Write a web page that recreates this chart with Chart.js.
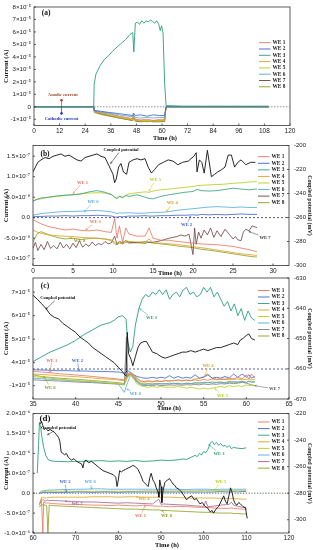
<!DOCTYPE html>
<html>
<head>
<meta charset="utf-8">
<script src="https://cdn.jsdelivr.net/npm/chart.js@4.4.1/dist/chart.umd.min.js"></script>
<style>
html, body { margin: 0; padding: 0; background: #fff; }
#wrap { position: relative; width: 313px; height: 550px; overflow: hidden; background: #fff; }
#wrap canvas { position: absolute; left: 0; }
</style>
</head>
<body>
<div id="wrap">
  <canvas id="chartA" width="313" height="142" style="top:0px"></canvas>
  <canvas id="chartB" width="313" height="137" style="top:140px"></canvas>
  <canvas id="chartC" width="313" height="140" style="top:272px"></canvas>
  <canvas id="chartD" width="313" height="142" style="top:408px"></canvas>
</div>
<script>
// ---------- data: panel (a), current in 1e-5 A ----------
const aXTicks = [0, 12, 24, 36, 48, 60, 72, 84, 96, 108, 120];
const aYTicks = [-1e-5, 0, 1e-5, 2e-5, 3e-5, 4e-5, 5e-5, 6e-5, 7e-5, 8e-5];
const aTime3 = [0, 28, 28.2, 29, 31, 33, 35, 37, 39, 41,
  43, 45, 46.3, 46.8, 47.5, 48.5, 49.5, 50.5, 51.5, 52.5,
  53.5, 54.5, 55.5, 56.5, 57.5, 58.5, 59.2, 59.8, 60.5, 61.2,
  61.9, 70, 80, 90, 100, 110];
const aWE3 = [0, 0, 1.8, 2.6, 3.3, 3.8, 4.1, 4.5, 4.8, 5.1,
  5.4, 5.8, 5.95, 4.4, 6.7, 6.8, 6.6, 6.9, 6.7, 6.9,
  6.8, 6.95, 6.85, 6.7, 6.9, 6.6, 6.1, 6.5, 5.9, 2.0,
  0.1, 0.05, 0.05, 0.05, 0.05, 0.05];
const aTimeN = [0, 28, 28.3, 31, 35, 40, 46.3, 46.6, 47.5, 50, 53, 56, 59, 61.2, 61.9, 110];
const aWE1 = [0, 0, -0.35, -0.45, -0.55, -0.75, -0.95, -0.7, -1.0, -1.05, -1.0, -1.1, -1.0, -1.0, 0, 0];
const aWE2 = [0, 0, -0.3, -0.35, -0.45, -0.55, -0.7, -0.5, -0.7, -0.65, -0.75, -0.65, -0.7, -0.7, 0, 0];
const aWE4 = [0, 0, -0.4, -0.5, -0.65, -0.85, -1.05, -0.8, -1.1, -1.15, -1.1, -1.2, -1.1, -1.1, 0, 0];
const aWE5 = [0, 0, -0.35, -0.45, -0.6, -0.8, -1.0, -0.75, -1.05, -1.1, -1.15, -1.1, -1.15, -1.05, 0, 0];
const aWE6 = [0, 0, -0.3, -0.4, -0.5, -0.65, -0.8, -0.6, -0.85, -0.9, -0.85, -0.9, -0.85, -0.85, 0, 0];
const aWE7 = [0, 0, -0.4, -0.55, -0.7, -0.9, -1.1, -0.85, -1.15, -1.2, -1.15, -1.2, -1.2, -1.15, 0, 0];
const aWE8 = [0, 0, -0.45, -0.6, -0.75, -0.9, -1.1, -0.85, -1.1, -1.15, -1.2, -1.15, -1.1, -1.2, 0, 0];

// ---------- data: panel (b), current in 1e-8 A, potential in mV ----------
const bXTicks = [0, 5, 10, 15, 20, 25, 30];
const bYTicks = [-1e-7, -5e-8, 0, 5e-8, 1e-7, 1.5e-7];
const bY2Ticks = [-300, -280, -260, -240, -220, -200];
const bCpTime = [0, 0.3, 0.6, 1, 1.5, 2, 2.5, 3, 3.5, 4,
  4.5, 5, 5.5, 6, 6.5, 7, 7.5, 8, 8.5, 9,
  9.5, 10, 10.2, 10.4, 10.7, 11, 11.3, 11.7, 12, 12.5,
  13, 13.5, 14, 14.4, 14.8, 15.2, 15.7, 16.3, 16.9, 17.5,
  18.1, 18.7, 19.4, 20.1, 20.4, 20.5, 20.8, 21.1, 21.4, 21.8,
  22.3, 22.7, 23.1, 23.6, 24, 24.4, 24.8, 25.2, 25.6, 26,
  26.6, 27.2, 27.8];
const bCp = [-222, -218, -214, -212, -210, -211, -209, -208, -207, -209,
  -208, -210, -212, -213, -210, -209, -208, -207, -209, -210,
  -217, -224, -231, -228, -218, -215, -222, -224, -214, -212,
  -211, -212, -211, -218, -223, -220, -216, -214, -212, -213,
  -216, -214, -213, -209, -206, -222, -212, -214, -223, -204,
  -226, -224, -222, -220, -218, -208, -208, -218, -214, -212,
  -216, -214, -214];
const bTime = [0, 0.5, 1, 2, 3, 4, 5, 6, 7, 8,
  9, 9.8, 10.2, 10.5, 10.8, 11.2, 11.6, 12, 13, 14,
  14.5, 15, 16, 17, 18, 19, 20, 20.5, 21, 22,
  23, 24, 25, 26, 27, 28];
const bWE1 = [-0.5, -1.0, -1.5, -2.2, -2.6, -3.0, -2.8, -3.1, -3.2, -3.0,
  -3.4, -3.6, -0.2, -5.0, -2.0, -6.0, -2.5, -4.0, -4.5, -4.5,
  -2.5, -5.0, -5.5, -5.5, -5.8, -6.0, -6.2, -6.3, -6.4, -6.5,
  -6.6, -6.8, -7.0, -7.4, -7.8, -8.3];
const bWE2 = [0.2, 0.3, 0.3, 0.4, 0.4, 0.5, 0.4, 0.5, 0.5, 0.6,
  0.5, 0.4, 0.2, 0.1, 0.3, 0.2, 0.3, 0.4, 0.4, 0.5,
  0.4, 0.4, 0.5, 0.5, 0.6, 0.6, 0.7, 0.6, 0.8, 0.7,
  0.8, 0.7, 0.8, 0.9, 0.8, 0.8];
const bWE3 = [4.0, 4.5, 4.8, 5.0, 5.3, 5.5, 5.6, 5.8, 6.3, 6.6,
  6.2, 5.6, 5.0, 4.7, 5.2, 4.9, 5.4, 5.2, 5.6, 5.0,
  4.7, 4.6, 5.2, 5.6, 5.9, 6.2, 6.4, 6.9, 6.6, 6.5,
  6.6, 6.9, 7.2, 7.0, 6.8, 7.0];
const bWE4 = [-3.0, -3.5, -3.8, -4.2, -4.4, -4.5, -4.6, -4.8, -4.9, -5.0,
  -5.2, -5.4, -6.0, -6.2, -5.8, -6.0, -5.6, -5.8, -5.9, -6.0,
  -5.2, -6.1, -6.2, -6.4, -6.5, -6.8, -7.0, -7.2, -7.3, -7.6,
  -7.9, -8.2, -8.5, -8.8, -9.0, -9.2];
const bWE5 = [4.2, 4.4, 4.6, 5.0, 5.2, 5.4, 5.6, 5.8, 6.0, 6.1,
  6.0, 5.7, 5.0, 4.6, 5.3, 5.0, 5.5, 5.8, 6.1, 6.3,
  6.2, 6.5, 6.8, 7.0, 7.2, 7.4, 7.6, 7.8, 7.9, 8.0,
  8.1, 8.2, 8.4, 8.5, 8.7, 8.8];
const bWE6 = [0.6, 0.8, 1.0, 1.2, 1.4, 1.5, 1.5, 1.6, 1.7, 1.8,
  1.6, 1.4, 1.2, 1.0, 1.2, 1.1, 1.2, 1.2, 1.1, 1.1,
  1.2, 1.3, 1.3, 1.5, 1.8, 2.0, 2.2, 2.3, 2.4, 2.6,
  2.7, 2.6, 2.5, 2.6, 2.5, 2.5];
const bWE8 = [-6.0, -4.0, -3.4, -4.2, -4.8, -5.2, -5.0, -5.3, -5.1, -5.0,
  -5.2, -5.6, -6.4, -6.6, -6.2, -6.4, -6.0, -6.2, -6.1, -6.3,
  -6.0, -6.2, -6.4, -6.6, -6.9, -7.1, -7.3, -7.5, -7.7, -7.9,
  -8.2, -8.5, -8.8, -9.1, -9.4, -9.6];
const bTime7 = [0, 0.3, 0.6, 1, 1.4, 1.8, 2.2, 2.6, 3, 3.4,
  3.8, 4.2, 4.6, 5, 5.4, 5.8, 6.2, 6.6, 7, 7.4,
  7.8, 8.2, 8.6, 9, 9.4, 9.8, 10.2, 10.5, 10.8, 11.2,
  11.6, 12, 13, 14, 15, 16, 17, 18, 18.5, 19,
  19.5, 20, 20.2, 20.4, 20.7, 21, 21.4, 21.8, 22.2, 22.6,
  23, 23.5, 24, 24.5, 25, 25.3, 25.6, 26, 26.3, 26.6,
  27, 27.4, 28];
const bWE7 = [-7.5, -6.0, -8.0, -6.5, -7.8, -5.8, -7.5, -6.8, -7.6, -6.0,
  -7.4, -6.5, -7.6, -6.2, -7.3, -5.6, -7.2, -6.4, -7.0, -5.9,
  -6.8, -6.3, -6.6, -5.8, -6.4, -6.1, -4.5, -6.5, -5.8, -6.2,
  -5.6, -6.0, -6.1, -5.9, -6.0, -5.6, -5.0, -4.6, -4.2, -4.5,
  -4.0, -9.0, -2.5, -6.5, -3.5, -5.0, -3.0, -4.2, -2.5, -4.8,
  -3.2, -4.6, -2.8, -4.0, -5.2, -4.6, -5.4, -5.6, -3.5, -2.8,
  -3.2, -2.0, -2.4];

// ---------- data: panel (c), current in 1e-5 A (broken axis), potential in mV ----------
const cXTicks = [35, 40, 45, 50, 55, 60, 65];
const cYTicks = [-1e-5, 4e-5, 5e-5, 6e-5, 7e-5];
const cY2Ticks = [-670, -660, -650, -640, -630];
const cBreakVals = [-1.8e-5, 0, 4e-5, 7.6e-5];
const cBreakFrac = [0, 0.248, 0.300, 1];
const cCpTime = [35, 35.5, 36, 36.5, 37, 37.5, 38, 38.5, 39, 39.5,
  40, 40.5, 41, 41.5, 42, 42.5, 43, 43.5, 44, 44.5,
  45, 45.5, 45.9, 46.05, 46.2, 46.5, 46.7, 47, 47.3, 47.6,
  48, 48.3, 48.7, 49, 49.5, 50, 50.5, 51, 51.5, 52,
  52.5, 53, 53.5, 54, 54.5, 55, 55.5, 56, 56.5, 57,
  57.5, 58, 58.5, 59, 59.3, 59.6, 60, 60.3, 60.6, 61];
const cCp = [-635.7, -637, -638.5, -640, -642, -643, -643.5, -645, -646, -647,
  -648, -649.5, -650.5, -651.5, -653, -654, -655, -656, -657, -658,
  -659.5, -661, -662.5, -648, -655, -657, -659, -656, -653, -651.5,
  -651, -651, -653, -654.5, -655, -656, -656.5, -656, -655.5, -655,
  -654.5, -654.5, -654, -654.5, -654, -653.5, -654, -653.5, -653, -653,
  -652.5, -652, -651.5, -652, -650.5, -650, -649, -648.5, -650, -650.5];
const cTime3 = [35, 36, 37, 38, 39, 40, 41, 42, 43, 44,
  44.5, 45, 45.5, 45.9, 46.1, 46.4, 46.7, 47, 47.4, 47.8,
  48.2, 48.6, 49, 49.4, 49.8, 50.2, 50.6, 51, 51.4, 51.8,
  52.2, 52.6, 53, 53.4, 53.8, 54.2, 54.6, 55, 55.4, 55.8,
  56.2, 56.6, 57, 57.4, 57.8, 58.2, 58.6, 59, 59.4, 59.8,
  60.2, 60.6, 61];
const cWE3 = [4.05, 4.25, 4.45, 4.6, 4.75, 4.95, 5.2, 5.4, 5.6, 5.7,
  5.8, 5.95, 6.0, 5.85, 4.9, 4.45, 4.7, 5.6, 6.3, 6.7,
  6.9, 6.8, 7.0, 6.9, 7.1, 6.9, 7.1, 6.7, 6.9, 7.0,
  6.8, 7.1, 7.2, 6.9, 7.0, 6.8, 6.9, 7.2, 7.0, 7.2,
  6.8, 7.0, 6.7, 6.4, 6.6, 6.2, 6.5, 6.0, 6.3, 5.8,
  6.2, 5.9, 5.8];
const cTime = [35, 36, 37, 38, 39, 40, 41, 42, 43, 44,
  45, 45.7, 46.1, 46.4, 46.8, 47.2, 47.6, 48, 48.5, 49,
  49.5, 50, 50.5, 51, 51.5, 52, 52.5, 53, 53.5, 54,
  54.5, 55, 55.5, 56, 56.5, 57, 57.5, 58, 58.5, 59,
  59.5, 60, 60.3, 60.6, 61];
const cWE1 = [-0.15, -0.18, -0.22, -0.28, -0.32, -0.36, -0.4, -0.45, -0.5, -0.55,
  -0.6, -0.65, -0.3, -0.2, -0.35, -0.55, -0.7, -0.75, -0.7, -0.75,
  -0.7, -0.75, -0.7, -0.72, -0.7, -0.65, -0.7, -0.68, -0.7, -0.65,
  -0.7, -0.62, -0.68, -0.6, -0.65, -0.6, -0.62, -0.55, -0.6, -0.5,
  -0.6, -0.35, -0.6, -0.3, -0.55];
const cWE2 = [-0.05, -0.06, -0.08, -0.1, -0.1, -0.12, -0.12, -0.14, -0.15, -0.16,
  -0.18, -0.25, -0.1, -0.2, -0.35, -0.45, -0.5, -0.55, -0.55, -0.5,
  -0.55, -0.5, -0.55, -0.4, -0.55, -0.45, -0.55, -0.5, -0.55, -0.35,
  -0.55, -0.5, -0.35, -0.55, -0.5, -0.55, -0.45, -0.55, -0.3, -0.5,
  -0.3, -0.5, -0.35, -0.55, -0.45];
const cWE4 = [-0.3, -0.33, -0.36, -0.4, -0.43, -0.46, -0.5, -0.54, -0.58, -0.62,
  -0.66, -0.7, -0.35, -0.25, -0.4, -0.6, -0.75, -0.8, -0.75, -0.78,
  -0.72, -0.75, -0.7, -0.72, -0.68, -0.7, -0.72, -0.65, -0.7, -0.6,
  -0.55, -0.45, -0.3, -0.55, -0.6, -0.62, -0.6, -0.65, -0.62, -0.6,
  -0.65, -0.62, -0.6, -0.65, -0.62];
const cWE5 = [-0.45, -0.5, -0.55, -0.6, -0.65, -0.7, -0.72, -0.75, -0.8, -0.85,
  -0.9, -0.95, -0.5, -0.35, -0.6, -0.9, -1.0, -1.05, -1.1, -1.05,
  -1.1, -1.05, -1.1, -1.08, -1.1, -1.05, -1.1, -1.15, -1.1, -1.15,
  -1.2, -1.15, -1.2, -1.15, -1.1, -1.05, -1.1, -1.0, -1.05, -1.0,
  -1.05, -0.95, -1.0, -0.95, -1.0];
const cWE6 = [-0.55, -0.58, -0.62, -0.65, -0.68, -0.72, -0.75, -0.78, -0.82, -0.86,
  -0.9, -1.4, -0.8, -0.4, -0.55, -0.8, -0.9, -0.95, -0.9, -0.92,
  -0.9, -0.88, -0.9, -0.85, -0.88, -0.85, -0.9, -0.85, -0.88, -0.85,
  -0.82, -0.85, -0.8, -0.85, -0.82, -0.8, -0.85, -0.8, -0.75, -0.8,
  -0.78, -0.8, -0.75, -0.8, -0.78];
const cWE8 = [-0.35, -0.45, -0.5, -0.55, -0.58, -0.62, -0.65, -0.7, -0.73, -0.78,
  -0.82, -0.88, -0.4, -0.3, -0.45, -0.7, -0.85, -0.9, -0.88, -0.9,
  -0.85, -0.9, -0.88, -0.9, -0.85, -0.88, -0.9, -0.85, -0.88, -0.82,
  -0.85, -0.8, -0.82, -0.78, -0.8, -0.78, -0.82, -0.75, -0.8, -0.78,
  -0.75, -0.8, -0.72, -0.78, -0.75];
const cTime7 = [35, 36, 37, 38, 39, 40, 41, 42, 43, 44,
  45, 45.7, 45.95, 46.1, 46.4, 46.8, 47.2, 47.6, 48, 48.5,
  49, 49.5, 50, 50.5, 51, 51.5, 52, 52.5, 53, 53.5,
  54, 54.5, 55, 55.5, 56, 56.5, 57, 57.5, 58, 58.5,
  59, 59.5, 60, 60.3, 60.6, 61];
const cWE7 = [-0.65, -0.68, -0.7, -0.72, -0.75, -0.78, -0.8, -0.82, -0.85, -0.88,
  -0.9, -0.95, 5.1, -0.45, -0.3, -0.5, -0.75, -0.95, -1.0, -0.98,
  -1.0, -0.95, -1.0, -0.98, -0.95, -0.97, -0.95, -0.98, -0.94, -0.96,
  -0.92, -0.95, -0.9, -0.93, -0.9, -0.92, -0.88, -0.9, -0.85, -0.88,
  -0.85, -0.8, -0.85, -0.9, -0.95, -1.0];

// ---------- data: panel (d), current in 1e-6 A, potential in mV ----------
const dXTicks = [60, 70, 80, 90, 100, 110, 120];
const dYTicks = [-1e-6, -5e-7, 0, 5e-7, 1e-6, 1.5e-6, 2e-6];
const dY2Ticks = [-300, -280, -260, -240, -220];
const dCpTime = [61.6, 62, 62.3, 62.6, 63, 63.5, 64, 64.5, 65, 65.5,
  66, 66.3, 66.6, 67, 67.4, 67.8, 68.3, 69, 69.6, 70.2,
  70.8, 71.4, 71.7, 72, 72.5, 73, 73.7, 74.5, 75.6, 76.4,
  77.2, 78, 78.8, 79.4, 79.7, 80, 80.3, 80.7, 81.1, 81.7,
  82.3, 83, 83.4, 84, 84.6, 85.2, 85.8, 86.4, 87, 87.4,
  87.7, 88.1, 88.5, 88.9, 89.3, 89.5, 89.7, 90, 90.2, 90.5,
  90.9, 91.5, 92, 92.4, 92.8, 93.2, 93.6, 94.2, 94.8, 95.4,
  96, 96.6, 97.2, 97.8, 98.3, 98.7, 99.1, 99.7, 100.3, 100.9,
  101.5, 102, 102.3, 102.9, 103.5, 104.1, 104.7, 105.1, 105.5, 105.9,
  106.3, 106.7, 107, 107.4, 107.8, 108.2, 108.6, 109.2, 109.8, 110.2];
const dCp = [-228, -226, -229, -232, -231, -233, -232, -233, -234, -236,
  -238, -241, -249, -250, -251, -250, -253, -255, -254, -256,
  -257, -258, -261, -256, -255, -257, -256, -258, -261, -263,
  -264, -265, -266, -268, -275, -270, -263, -264, -263, -262,
  -261, -260, -259, -260, -262, -266, -271, -273, -275, -268,
  -265, -270, -272, -276, -279, -283, -270, -275, -287, -278,
  -272, -270, -269, -271, -273, -274, -276, -277, -279, -282,
  -285, -283, -282, -285, -284, -286, -288, -287, -290, -291,
  -294, -293, -295, -292, -290, -286, -282, -286, -288, -282,
  -276, -280, -285, -288, -289, -287, -288, -290, -291, -299];
const dTime3 = [61, 61.3, 61.5, 61.8, 62.1, 62.5, 63, 63.5, 64, 65,
  66, 68, 70, 72, 74, 76, 78, 80, 82, 84,
  86, 88, 90, 92, 94, 95, 96, 97, 98, 98.5,
  99, 99.5, 100, 100.5, 101, 101.5, 102, 102.5, 103, 103.5,
  104, 104.5, 105, 105.5, 106, 106.5, 107, 108, 109, 110];
const dWE3 = [0.5, 1.2, 1.78, 1.65, 1.4, 1.15, 0.95, 0.85, 0.82, 0.8,
  0.8, 0.79, 0.8, 0.8, 0.81, 0.82, 0.8, 0.81, 0.8, 0.82,
  0.8, 0.81, 0.83, 0.82, 0.84, 0.86, 0.85, 0.9, 0.95, 0.92,
  1.0, 0.96, 1.05, 1.02, 1.1, 1.25, 1.3, 1.22, 1.28, 1.2,
  1.25, 1.18, 1.2, 1.15, 1.2, 1.12, 1.15, 1.13, 1.12, 1.14];
const dTime = [61.5, 62, 62.3, 62.5, 62.8, 63.2, 63.5, 63.8, 64.5, 66,
  68, 70, 72, 74, 76, 78, 80, 82, 84, 86,
  88, 89.5, 90, 90.5, 92, 94, 96, 98, 100, 100.5,
  101, 102, 104, 106, 106.5, 107, 108, 109, 110];
const dWE1 = [-0.25, -0.2, -1.0, -0.22, -0.24, -0.25, -0.24, -0.25, -0.26, -0.27,
  -0.28, -0.28, -0.29, -0.3, -0.3, -0.31, -0.3, -0.31, -0.32, -0.3,
  -0.32, -0.33, -0.32, -0.33, -0.34, -0.33, -0.34, -0.35, -0.36, -0.35,
  -0.36, -0.37, -0.38, -0.38, -0.37, -0.38, -0.39, -0.4, -0.4];
const dWE2 = [0, 0.01, 0.02, 0.02, 0.02, 0.02, 0.02, 0.02, 0.02, 0.02,
  0.02, 0.03, 0.03, 0.02, 0.03, 0.03, 0.02, 0.03, 0.03, 0.03,
  0.03, 0.03, 0.03, 0.03, 0.03, 0.03, 0.03, 0.03, 0.03, 0.03,
  0.03, 0.03, 0.04, 0.03, 0.03, 0.04, 0.03, 0.04, 0.04];
const dWE4 = [-0.3, -0.1, -0.12, -0.1, -0.12, -0.12, -0.1, -0.11, -0.1, -0.1,
  -0.1, -0.1, -0.1, -0.09, -0.09, -0.09, -0.1, -0.09, -0.09, -0.1,
  -0.1, -0.1, -0.12, -0.1, -0.1, -0.11, -0.12, -0.12, -0.12, -0.12,
  -0.12, -0.12, -0.13, -0.13, -0.13, -0.14, -0.14, -0.15, -0.15];
const dWE5 = [0, 0.03, 0.04, 0.04, 0.04, 0.05, 0.05, 0.05, 0.05, 0.05,
  0.05, 0.05, 0.05, 0.05, 0.05, 0.05, 0.05, 0.05, 0.05, 0.06,
  0.06, 0.06, 0.06, 0.06, 0.06, 0.06, 0.06, 0.06, 0.07, 0.07,
  0.07, 0.07, 0.07, 0.07, 0.07, 0.07, 0.07, 0.07, 0.07];
const dWE6 = [0.02, 0.05, 0.06, 0.06, 0.07, 0.07, 0.08, 0.08, 0.08, 0.09,
  0.09, 0.1, 0.1, 0.11, 0.11, 0.1, 0.1, 0.1, 0.1, 0.1,
  0.1, 0.1, 0.1, 0.1, 0.1, 0.1, 0.09, 0.1, 0.1, 0.1,
  0.1, 0.09, 0.1, 0.1, 0.1, 0.1, 0.1, 0.1, 0.1];
const dWE7 = [-0.3, -0.15, -0.18, -0.17, -0.2, -0.18, -0.17, -0.19, -0.18, -0.19,
  -0.2, -0.21, -0.22, -0.22, -0.23, -0.24, -0.25, -0.24, -0.25, -0.26,
  -0.27, -0.15, -0.28, -0.27, -0.28, -0.29, -0.3, -0.32, -0.33, -0.2,
  -0.34, -0.33, -0.3, -0.28, -0.22, -0.3, -0.33, -0.35, -0.37];
const dWE8 = [-0.35, -0.28, -0.3, -0.29, -0.3, -0.31, -1.0, -0.3, -0.31, -0.32,
  -0.33, -0.34, -0.35, -0.36, -0.37, -0.38, -0.39, -0.4, -0.4, -0.41,
  -0.42, -0.42, -0.43, -0.43, -0.44, -0.45, -0.46, -0.47, -0.48, -0.48,
  -0.48, -0.49, -0.5, -0.5, -0.5, -0.51, -0.51, -0.52, -0.52];

// ---------- styles ----------
const WE = ['#e3735e', '#3a5fcd', '#2e9e7e', '#d9a21b', '#b5cc18', '#4fa8dc', '#6b3f45', '#8f9a1a'];
const SERIF = '"Liberation Serif", "Times New Roman", serif';
Chart.defaults.font.family = '"Liberation Sans", Arial, sans-serif';
Chart.defaults.color = '#222';

// y axis with a compressed gap (panel c): piecewise linear value -> decimal
function brokenFrac(v) {
  const n = cBreakVals.length;
  let i = 0;
  while (i < n - 2 && v > cBreakVals[i + 1]) i++;
  const t = (v - cBreakVals[i]) / (cBreakVals[i + 1] - cBreakVals[i]);
  return cBreakFrac[i] + t * (cBreakFrac[i + 1] - cBreakFrac[i]);
}
function brokenValue(f) {
  const n = cBreakFrac.length;
  let i = 0;
  while (i < n - 2 && f > cBreakFrac[i + 1]) i++;
  const t = (f - cBreakFrac[i]) / (cBreakFrac[i + 1] - cBreakFrac[i]);
  return cBreakVals[i] + t * (cBreakVals[i + 1] - cBreakVals[i]);
}
class BrokenScale extends Chart.LinearScale {
  getPixelForValue(v) { return this.getPixelForDecimal(brokenFrac(v)); }
  getValueForPixel(p) { return brokenValue(this.getDecimalForPixel(p)); }
}
BrokenScale.id = 'broken';
Chart.register(BrokenScale);

const SUP = { '-': '⁻', '0': '⁰', '1': '¹', '2': '²', '3': '³', '4': '⁴', '5': '⁵', '6': '⁶', '7': '⁷', '8': '⁸', '9': '⁹' };
function sci(v, dec) {
  if (Math.abs(v) < 1e-15) return dec ? (0).toFixed(dec) : '0';
  const e = Math.floor(Math.log10(Math.abs(v)) + 1e-9);
  const m = v / Math.pow(10, e);
  return m.toFixed(dec) + '×10' + String(e).split('').map(c => SUP[c]).join('');
}

function line(label, xs, ys, unit, color, axis, width) {
  return {
    label: label,
    data: xs.map((x, i) => ({ x: x, y: ys[i] * unit })),
    borderColor: color, borderWidth: width || 0.8,
    pointRadius: 0, tension: 0, fill: false, yAxisID: axis || 'y'
  };
}
function zero(x0, x1, color, dash) {
  return { label: 'zero', data: [{ x: x0, y: 0 }, { x: x1, y: 0 }], borderColor: color,
    borderWidth: 0.8, borderDash: dash, pointRadius: 0, yAxisID: 'y' };
}

const noGrid = { display: false, drawTicks: false, tickLength: 0 };
function xAxis(min, max, ticks, h) {
  return {
    type: 'linear', position: 'bottom', min: min, max: max,
    grid: noGrid, border: { display: false },
    ticks: { font: { size: 6.5 }, padding: 1.5, maxRotation: 0, autoSkip: false },
    afterBuildTicks: s => { s.ticks = ticks.map(v => ({ value: v })); },
    afterFit: s => { s.height = h; s.paddingLeft = 0; s.paddingRight = 0; }
  };
}
function yAxis(type, min, max, ticks, dec, w) {
  return {
    type: type, position: 'left', min: min, max: max,
    grid: noGrid, border: { display: false },
    ticks: { font: { size: 6.2 }, padding: 3, autoSkip: false, callback: v => sci(v, dec) },
    title: { display: true, text: 'Current (A)', font: { family: SERIF, weight: 'bold', size: 6.5 }, padding: { top: 2, bottom: 0 } },
    afterBuildTicks: s => { s.ticks = ticks.map(v => ({ value: v })); },
    afterFit: s => { s.width = w; s.paddingTop = 0; s.paddingBottom = 0; }
  };
}
function y2Axis(min, max, ticks) {
  return {
    type: 'linear', position: 'right', min: min, max: max,
    grid: noGrid, border: { display: false },
    ticks: { font: { size: 6 }, padding: 5, autoSkip: false },
    title: { display: true, text: 'Coupled potential (mV)', font: { family: SERIF, weight: 'bold', size: 6 }, padding: { top: 0, bottom: 0 } },
    afterBuildTicks: s => { s.ticks = ticks.map(v => ({ value: v })); },
    afterFit: s => { s.width = 24; s.paddingTop = 0; s.paddingBottom = 0; }
  };
}

// frame, inward tick marks, legend, panel letter, x title, labels with leader lines
function decor(cfg) {
  return {
    id: 'decor',
    afterDraw(chart) {
      const ctx = chart.ctx, a = chart.chartArea;
      ctx.save();
      ctx.strokeStyle = '#333';
      ctx.lineWidth = 0.8;
      ctx.strokeRect(a.left, a.top, a.right - a.left, a.bottom - a.top);
      Object.values(chart.scales).forEach(s => {
        s.ticks.forEach(t => {
          const p = s.getPixelForValue(t.value);
          ctx.beginPath();
          if (s.axis === 'x') { ctx.moveTo(p, a.bottom); ctx.lineTo(p, a.bottom - 2); }
          else if (s.position === 'left') { ctx.moveTo(a.left, p); ctx.lineTo(a.left + 2, p); }
          else { ctx.moveTo(a.right, p); ctx.lineTo(a.right - 2, p); }
          ctx.stroke();
        });
      });

      // legend
      const items = chart.data.datasets.filter(d => d.label.indexOf('WE') === 0)
        .sort((p, q) => p.label.localeCompare(q.label));
      ctx.font = 'bold 5.3px ' + SERIF;
      ctx.textBaseline = 'middle';
      ctx.textAlign = 'left';
      items.forEach((d, i) => {
        const y = a.top + cfg.legendTop + i * cfg.legendGap;
        ctx.strokeStyle = d.borderColor;
        ctx.lineWidth = 0.9;
        ctx.beginPath(); ctx.moveTo(a.right - 31, y); ctx.lineTo(a.right - 19.5, y); ctx.stroke();
        ctx.fillStyle = '#222';
        ctx.fillText(d.label, a.right - 17.5, y);
      });

      // panel letter and x title
      ctx.textAlign = 'center';
      ctx.fillStyle = '#111';
      ctx.font = 'bold ' + cfg.letterSize + 'px ' + SERIF;
      ctx.fillText(cfg.letter, a.left + 12, a.top + cfg.letterDy);
      ctx.font = 'bold 6.5px ' + SERIF;
      ctx.fillText('Time (h)', (a.left + a.right) / 2 + cfg.titleDx, a.bottom + cfg.titleDy);

      // arrows (anodic / cathodic)
      const xs = chart.scales.x;
      (cfg.marks || []).forEach(m => {
        const ys = chart.scales.y;
        const x1 = xs.getPixelForValue(m.x1), y1 = ys.getPixelForValue(m.y1);
        const x2 = xs.getPixelForValue(m.x2), y2 = ys.getPixelForValue(m.y2);
        ctx.strokeStyle = m.c; ctx.fillStyle = m.c; ctx.lineWidth = 0.7;
        ctx.beginPath(); ctx.moveTo(x1, y1); ctx.lineTo(x2, y2); ctx.stroke();
        ctx.beginPath(); ctx.arc(x2, y2, 1.3, 0, Math.PI * 2); ctx.fill();
      });

      // text labels with leader lines
      (cfg.notes || []).forEach(n => {
        const ys = chart.scales[n.s || 'y'];
        const size = n.size || 4.6;
        ctx.font = 'bold ' + size + 'px ' + SERIF;
        const px = xs.getPixelForValue(n.x), py = ys.getPixelForValue(n.y);
        if (n.ax !== undefined) {
          const tx = xs.getPixelForValue(n.ax), ty = ys.getPixelForValue(n.ay);
          const hw = ctx.measureText(n.t).width / 2 + 1, hh = size / 2 + 0.5;
          const dx = tx - px, dy = ty - py;
          const k = Math.min(dx ? hw / Math.abs(dx) : Infinity, dy ? hh / Math.abs(dy) : Infinity);
          if (k < 1) {
            const sx = px + dx * k, sy = py + dy * k;
            ctx.strokeStyle = n.c; ctx.lineWidth = 0.5;
            ctx.beginPath(); ctx.moveTo(sx, sy); ctx.lineTo(tx, ty); ctx.stroke();
            const ang = Math.atan2(ty - sy, tx - sx);
            ctx.beginPath();
            ctx.moveTo(tx - 2 * Math.cos(ang - 0.45), ty - 2 * Math.sin(ang - 0.45));
            ctx.lineTo(tx, ty);
            ctx.lineTo(tx - 2 * Math.cos(ang + 0.45), ty - 2 * Math.sin(ang + 0.45));
            ctx.stroke();
          }
        }
        ctx.fillStyle = n.c;
        ctx.textAlign = 'center';
        ctx.textBaseline = 'middle';
        ctx.fillText(n.t, px, py);
      });
      ctx.restore();
    }
  };
}

function baseOptions(pad, scales) {
  return {
    responsive: false, animation: false, events: [],
    layout: { padding: pad },
    scales: scales,
    plugins: { legend: { display: false }, tooltip: { enabled: false } }
  };
}

// ---------- (a) ----------
new Chart(document.getElementById('chartA'), {
  type: 'line',
  data: { datasets: [
    line('WE 3', aTime3, aWE3, 1e-5, WE[2], 'y', 0.9),
    line('WE 2', aTimeN, aWE2, 1e-5, WE[1]),
    line('WE 6', aTimeN, aWE6, 1e-5, WE[5]),
    line('WE 1', aTimeN, aWE1, 1e-5, WE[0]),
    line('WE 5', aTimeN, aWE5, 1e-5, WE[4]),
    line('WE 4', aTimeN, aWE4, 1e-5, WE[3]),
    line('WE 8', aTimeN, aWE8, 1e-5, WE[7]),
    line('WE 7', aTimeN, aWE7, 1e-5, WE[6]),
    zero(0, 120, '#777', [1.5, 1.5])
  ] },
  options: baseOptions({ top: 7, right: 23, left: 0, bottom: 0 }, {
    x: xAxis(0, 120, aXTicks, 16.5),
    y: yAxis('linear', -1.5e-5, 8e-5, aYTicks, 0, 34)
  }),
  plugins: [decor({
    letter: '(a)', letterSize: 7.5, letterDy: 6.5, legendTop: 35.7, legendGap: 6.3,
    titleDx: 3, titleDy: 12.5,
    marks: [
      { x1: 12.9, y1: 0, x2: 12.9, y2: 0.53e-5, c: '#c0392b' },
      { x1: 12.9, y1: 0, x2: 12.9, y2: -0.53e-5, c: '#2233cc' }
    ],
    notes: [
      { t: 'Anodic current', x: 13.5, y: 0.95e-5, c: '#9a4a2a' },
      { t: 'Cathodic current', x: 12.9, y: -1.0e-5, c: '#2233bb' }
    ]
  })]
});

// ---------- (b) ----------
new Chart(document.getElementById('chartB'), {
  type: 'line',
  data: { datasets: [
    line('Coupled potential', bCpTime, bCp, 1, '#111', 'y2', 0.9),
    line('WE 1', bTime, bWE1, 1e-8, WE[0]),
    line('WE 2', bTime, bWE2, 1e-8, WE[1]),
    line('WE 3', bTime, bWE3, 1e-8, WE[2]),
    line('WE 4', bTime, bWE4, 1e-8, WE[3]),
    line('WE 5', bTime, bWE5, 1e-8, WE[4]),
    line('WE 6', bTime, bWE6, 1e-8, WE[5]),
    line('WE 7', bTime7, bWE7, 1e-8, WE[6]),
    line('WE 8', bTime, bWE8, 1e-8, WE[7]),
    zero(0, 32, '#333', [2, 2])
  ] },
  options: baseOptions({ top: 5.5, right: 0, left: 0, bottom: 0 }, {
    x: xAxis(0, 32, bXTicks, 11.5),
    y: yAxis('linear', -1.166e-7, 1.761e-7, bYTicks, 1, 33),
    y2: y2Axis(-300, -200, bY2Ticks)
  }),
  plugins: [decor({
    letter: '(b)', letterSize: 7.5, letterDy: 8.5, legendTop: 11.2, legendGap: 6.57,
    titleDx: 9, titleDy: 8,
    notes: [
      { t: 'Coupled potential', x: 11.0, y: -203.6, ax: 9.7, ay: -215, c: '#111', s: 'y2' },
      { t: 'WE 1', x: 6.2, y: 8.6e-8, ax: 5.0, ay: 5.9e-8, c: WE[0] },
      { t: 'WE 6', x: 7.5, y: 3.8e-8, ax: 6.4, ay: 1.4e-8, c: WE[5] },
      { t: 'WE 5', x: 15.3, y: 9.2e-8, ax: 14.5, ay: 6.5e-8, c: WE[4] },
      { t: 'WE 4', x: 17.4, y: 3.6e-8, ax: 16.7, ay: 1.5e-8, c: WE[3] },
      { t: 'WE 2', x: 19.2, y: -1.8e-8, ax: 19.7, ay: 0.4e-8, c: WE[1] },
      { t: 'WE 1', x: 7.8, y: -1.0e-8, ax: 6.6, ay: -3.0e-8, c: WE[0] },
      { t: 'WE 8', x: 5.8, y: -5.7e-8, ax: 4.6, ay: -4.9e-8, c: WE[7] },
      { t: 'WE 7', x: 29.0, y: -4.8e-8, ax: 27.0, ay: -3.4e-8, c: '#333' }
    ]
  })]
});

// ---------- (c) ----------
new Chart(document.getElementById('chartC'), {
  type: 'line',
  data: { datasets: [
    line('Coupled potential', cCpTime, cCp, 1, '#111', 'y2', 0.9),
    line('WE 3', cTime3, cWE3, 1e-5, WE[2], 'y', 0.9),
    line('WE 1', cTime, cWE1, 1e-5, WE[0]),
    line('WE 2', cTime, cWE2, 1e-5, WE[1]),
    line('WE 4', cTime, cWE4, 1e-5, WE[3]),
    line('WE 5', cTime, cWE5, 1e-5, WE[4]),
    line('WE 6', cTime, cWE6, 1e-5, WE[5]),
    line('WE 7', cTime7, cWE7, 1e-5, '#7a7a7a'),
    line('WE 8', cTime, cWE8, 1e-5, WE[7]),
    zero(35, 65, '#2a3a7a', [2, 2])
  ] },
  options: baseOptions({ top: 6, right: 0, left: 0, bottom: 0 }, {
    x: xAxis(35, 65, cXTicks, 13),
    y: yAxis('broken', -1.8e-5, 7.6e-5, cYTicks, 0, 33),
    y2: y2Axis(-670, -630, cY2Ticks)
  }),
  plugins: [decor({
    letter: '(c)', letterSize: 7.5, letterDy: 7.7, legendTop: 12.5, legendGap: 6.5,
    titleDx: 8, titleDy: 9.5,
    notes: [
      { t: 'Coupled potential', x: 37.9, y: -636.6, ax: 36.5, ay: -640.3, c: '#111', s: 'y2' },
      { t: 'WE 3', x: 48.9, y: 5.9e-5, ax: 47.5, ay: 6.3e-5, c: WE[2] },
      { t: 'WE 1', x: 37.2, y: 4.1e-5, ax: 37.0, ay: -0.22e-5, c: WE[0] },
      { t: 'WE 2', x: 40.2, y: 4.1e-5, ax: 40.4, ay: -0.12e-5, c: WE[1] },
      { t: 'WE 8', x: 37.0, y: -1.1e-5, ax: 36.3, ay: -0.47e-5, c: WE[7] },
      { t: 'WE 6', x: 47.0, y: -1.5e-5, ax: 46.0, ay: -1.2e-5, c: WE[5] },
      { t: 'WE 4', x: 55.5, y: 2.0e-5, ax: 55.2, ay: -0.4e-5, c: WE[3] },
      { t: 'WE 5', x: 57.2, y: -1.6e-5, ax: 56.3, ay: -1.18e-5, c: WE[4] },
      { t: 'WE 7', x: 63.3, y: -1.2e-5, ax: 61.0, ay: -1.0e-5, c: '#555' }
    ]
  })]
});

// ---------- (d) ----------
new Chart(document.getElementById('chartD'), {
  type: 'line',
  data: { datasets: [
    line('Coupled potential', dCpTime, dCp, 1, '#111', 'y2', 0.9),
    line('WE 3', dTime3, dWE3, 1e-6, WE[2], 'y', 0.9),
    line('WE 1', dTime, dWE1, 1e-6, WE[0]),
    line('WE 2', dTime, dWE2, 1e-6, WE[1]),
    line('WE 4', dTime, dWE4, 1e-6, WE[3]),
    line('WE 5', dTime, dWE5, 1e-6, WE[4]),
    line('WE 6', dTime, dWE6, 1e-6, WE[5]),
    line('WE 7', dTime, dWE7, 1e-6, '#a0608a'),
    line('WE 8', dTime, dWE8, 1e-6, WE[7]),
    zero(60, 120, '#2a4a2a', [1.2, 1.6])
  ] },
  options: baseOptions({ top: 5.6, right: 0, left: 0, bottom: 0 }, {
    x: xAxis(60, 120, dXTicks, 17),
    y: yAxis('linear', -1e-6, 2e-6, dYTicks, 1, 33),
    y2: y2Axis(-310, -220, dY2Ticks)
  }),
  plugins: [decor({
    letter: '(d)', letterSize: 9, letterDy: 5, legendTop: 8.4, legendGap: 6.6,
    titleDx: 6, titleDy: 12,
    notes: [
      { t: 'Coupled potential', x: 66.0, y: -231, ax: 63.4, ay: -236, c: '#111', s: 'y2' },
      { t: 'WE 2', x: 67.5, y: 0.28e-6, ax: 67.8, ay: 0.03e-6, c: WE[1] },
      { t: 'WE 6', x: 73.4, y: 0.28e-6, ax: 73.8, ay: 0.1e-6, c: WE[5] },
      { t: 'WE 5', x: 104.0, y: 0.28e-6, ax: 102.5, ay: 0.07e-6, c: WE[4] },
      { t: 'WE 3', x: 103.6, y: 1.0e-6, ax: 101.2, ay: 1.22e-6, c: WE[2] },
      { t: 'WE 4', x: 86.0, y: -0.13e-6, ax: 84.2, ay: -0.09e-6, c: WE[3] },
      { t: 'WE 7', x: 70.3, y: -0.26e-6, ax: 67.5, ay: -0.2e-6, c: '#a0608a' },
      { t: 'WE 1', x: 85.2, y: -0.56e-6, ax: 86.3, ay: -0.31e-6, c: WE[0] },
      { t: 'WE 8', x: 91.3, y: -0.58e-6, ax: 90.2, ay: -0.43e-6, c: WE[7] }
    ]
  })]
});
</script>
</body>
</html>
